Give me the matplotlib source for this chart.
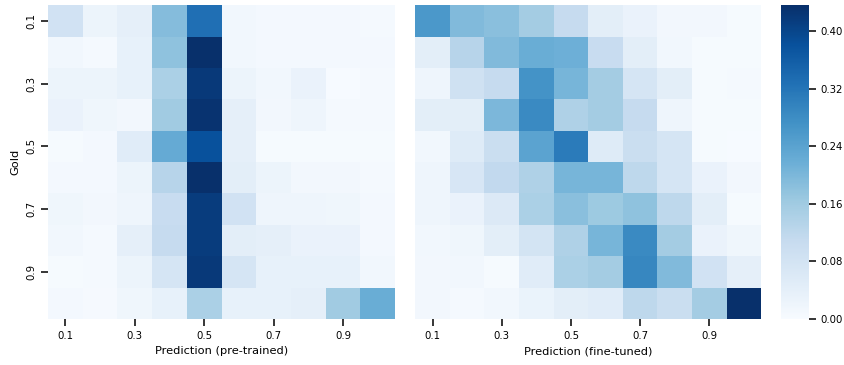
import numpy as np
import matplotlib
matplotlib.use("Agg")
import matplotlib.pyplot as plt
import seaborn as sns

bins = ["0.1", "0.2", "0.3", "0.4", "0.5", "0.6", "0.7", "0.8", "0.9", "1.0"]

# rows = gold bin, cols = predicted bin
pretrained = np.array([
    [0.085, 0.025, 0.040, 0.190, 0.330, 0.015, 0.010, 0.010, 0.010, 0.008],
    [0.015, 0.008, 0.035, 0.180, 0.436, 0.015, 0.010, 0.010, 0.010, 0.010],
    [0.025, 0.025, 0.035, 0.145, 0.420, 0.025, 0.015, 0.030, 0.003, 0.008],
    [0.030, 0.018, 0.012, 0.160, 0.430, 0.040, 0.012, 0.020, 0.008, 0.008],
    [0.005, 0.010, 0.050, 0.225, 0.380, 0.040, 0.005, 0.005, 0.005, 0.005],
    [0.010, 0.010, 0.025, 0.130, 0.436, 0.045, 0.025, 0.012, 0.012, 0.008],
    [0.018, 0.012, 0.020, 0.105, 0.415, 0.085, 0.022, 0.022, 0.018, 0.010],
    [0.015, 0.008, 0.040, 0.110, 0.415, 0.045, 0.040, 0.030, 0.030, 0.010],
    [0.005, 0.008, 0.025, 0.075, 0.420, 0.075, 0.035, 0.035, 0.035, 0.015],
    [0.010, 0.006, 0.018, 0.035, 0.145, 0.035, 0.035, 0.040, 0.160, 0.220],
])

finetuned = np.array([
    [0.260, 0.195, 0.185, 0.155, 0.110, 0.045, 0.030, 0.012, 0.012, 0.005],
    [0.045, 0.130, 0.195, 0.220, 0.215, 0.105, 0.045, 0.015, 0.005, 0.005],
    [0.020, 0.090, 0.110, 0.270, 0.205, 0.155, 0.075, 0.045, 0.005, 0.008],
    [0.045, 0.045, 0.200, 0.285, 0.140, 0.155, 0.110, 0.022, 0.005, 0.005],
    [0.015, 0.055, 0.100, 0.240, 0.310, 0.055, 0.100, 0.075, 0.005, 0.003],
    [0.020, 0.070, 0.115, 0.140, 0.205, 0.205, 0.120, 0.075, 0.030, 0.012],
    [0.022, 0.030, 0.060, 0.145, 0.185, 0.165, 0.180, 0.120, 0.045, 0.005],
    [0.015, 0.018, 0.045, 0.080, 0.140, 0.205, 0.285, 0.155, 0.030, 0.018],
    [0.012, 0.015, 0.005, 0.050, 0.145, 0.155, 0.290, 0.195, 0.085, 0.040],
    [0.012, 0.008, 0.015, 0.028, 0.045, 0.050, 0.120, 0.100, 0.155, 0.436],
])

vmax = max(pretrained.max(), finetuned.max())

fig = plt.figure(figsize=(8.44, 3.65), dpi=100)
ax1 = fig.add_axes([0.057, 0.126, 0.411, 0.860])
ax2 = fig.add_axes([0.492, 0.126, 0.410, 0.860])
cax = fig.add_axes([0.925, 0.126, 0.033, 0.860])

sns.heatmap(pretrained, ax=ax1, cmap="Blues", vmin=0, vmax=vmax, cbar=False)
sns.heatmap(finetuned, ax=ax2, cmap="Blues", vmin=0, vmax=vmax, cbar_ax=cax)

ticks = np.arange(0, 10, 2) + 0.5
labels = bins[::2]
for ax in (ax1, ax2):
    ax.set_xticks(ticks)
    ax.set_xticklabels(labels, rotation=0, fontsize=7.3)
    ax.tick_params(length=5, width=1.1)
ax1.set_yticks(ticks)
ax1.set_yticklabels(labels, rotation=90, va="center", fontsize=7.3)
ax2.set_yticks([])

ax1.set_xlabel("Prediction (pre-trained)", fontsize=8.2)
ax2.set_xlabel("Prediction (fine-tuned)", fontsize=8.2)
ax1.set_ylabel("Gold", fontsize=8.2)

cax.set_yticks([0.0, 0.08, 0.16, 0.24, 0.32, 0.40])
cax.set_yticklabels(["0.00", "0.08", "0.16", "0.24", "0.32", "0.40"])
cax.tick_params(labelsize=7.3, length=5, width=1.1)

fig.savefig("out.png", dpi=100)
